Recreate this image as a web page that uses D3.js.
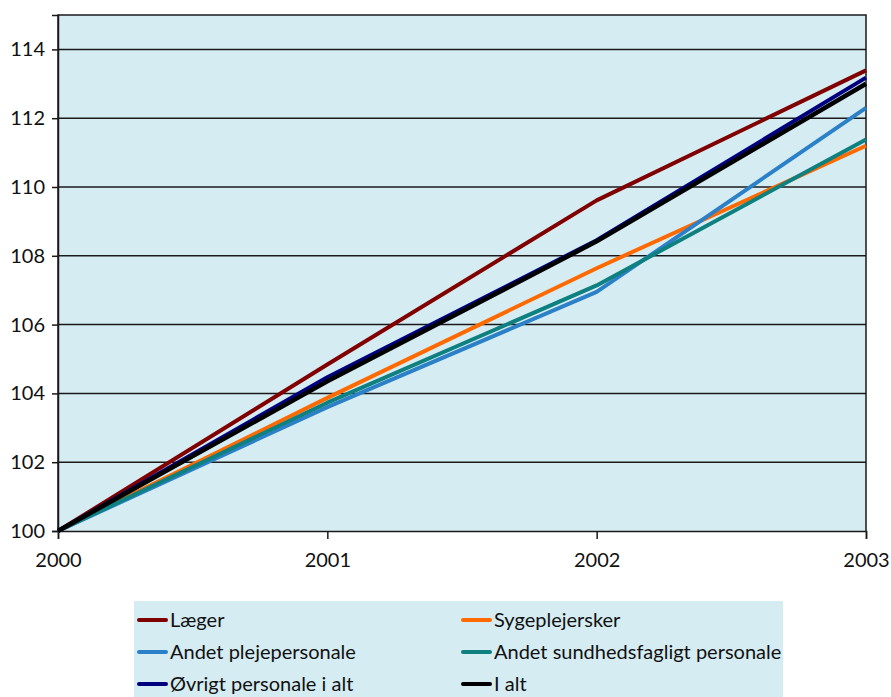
<!DOCTYPE html>
<html>
<head>
<meta charset="utf-8">
<script src="https://cdn.jsdelivr.net/npm/d3@7"></script>
<style>
  html, body { margin: 0; padding: 0; background: #fff; }
  svg { display: block; }
  text { font-family: Lato, "Open Sans", sans-serif; fill: #111; }
</style>
</head>
<body>
<svg id="chart" width="891" height="697"></svg>
<script>
const years = [2000, 2001, 2002, 2003];
const seriesNames = ["Læger", "Sygeplejersker", "Andet plejepersonale", "Andet sundhedsfagligt personale", "Øvrigt personale i alt", "I alt"];
const laeger = [100, 104.84, 109.61, 113.39];
const sygeplejersker = [100, 103.87, 107.64, 111.2];
const andetPleje = [100, 103.6, 106.95, 112.3];
const andetSundhed = [100, 103.73, 107.14, 111.38];
const oevrigt = [100, 104.47, 108.45, 113.18];
const iAlt = [100, 104.35, 108.42, 113.0];
const seriesColors = ["#800000", "#FF6A00", "#2B80C8", "#0E8080", "#00007F", "#000000"];
const yTicks = [100, 102, 104, 106, 108, 110, 112, 114];

const seriesValues = [laeger, sygeplejersker, andetPleje, andetSundhed, oevrigt, iAlt];

const svg = d3.select("#chart");
const mLeft = 58, mRight = 866, mTop = 15, mBottom = 531;

const x = d3.scaleLinear().domain([2000, 2003]).range([mLeft, mRight]);
const y = d3.scaleLinear().domain([100, 115]).range([mBottom, mTop]);

// plot background
svg.append("rect")
  .attr("x", mLeft).attr("y", mTop)
  .attr("width", mRight - mLeft).attr("height", mBottom - mTop)
  .attr("fill", "#D5ECF2");

// gridlines
svg.append("g")
  .selectAll("line")
  .data(yTicks.filter(d => d > 100))
  .join("line")
  .attr("x1", mLeft).attr("x2", mRight)
  .attr("y1", d => y(d)).attr("y2", d => y(d))
  .attr("stroke", "#1a1a1a").attr("stroke-width", 1.5);

// border (top/right)
svg.append("path")
  .attr("d", `M${mLeft},${mBottom}V${mTop}H${mRight}V${mBottom}`)
  .attr("fill", "none").attr("stroke", "#1a1a1a").attr("stroke-width", 1.5);

// y axis
const yAxis = svg.append("g")
  .attr("transform", `translate(${mLeft},0)`)
  .call(d3.axisLeft(y).tickValues(yTicks).tickSize(6).tickPadding(7).tickFormat(d3.format("d")));
yAxis.select(".domain").attr("stroke", "#1a1a1a").attr("stroke-width", 1.5);
yAxis.selectAll(".tick line").attr("stroke", "#1a1a1a").attr("stroke-width", 1.5);
yAxis.selectAll("text").attr("font-size", 20).attr("fill", "#111")
  .style("font-family", "Lato, sans-serif");

// x axis
const xAxis = svg.append("g")
  .attr("transform", `translate(0,${mBottom})`)
  .call(d3.axisBottom(x).tickValues(years).tickSize(8).tickPadding(14).tickFormat(d3.format("d")));
xAxis.select(".domain").attr("stroke", "#1a1a1a").attr("stroke-width", 1.5);
xAxis.selectAll(".tick line").attr("stroke", "#1a1a1a").attr("stroke-width", 1.5);
xAxis.selectAll("text").attr("font-size", 20).attr("fill", "#111")
  .style("font-family", "Lato, sans-serif");

// lines
const line = d3.line().x((d, i) => x(years[i])).y(d => y(d));
svg.append("g")
  .selectAll("path")
  .data(seriesValues)
  .join("path")
  .attr("d", d => line(d))
  .attr("fill", "none")
  .attr("stroke", (d, i) => seriesColors[i])
  .attr("stroke-width", (d, i) => i === 5 ? 4.5 : 4)
  .attr("stroke-linejoin", "round");

// legend
const lg = svg.append("g");
lg.append("rect")
  .attr("x", 134).attr("y", 601)
  .attr("width", 649).attr("height", 100)
  .attr("fill", "#D5ECF2");

const colX = [139, 463];
const rowY = [620, 652, 684];
seriesNames.forEach((name, i) => {
  const cx = colX[i % 2], cy = rowY[Math.floor(i / 2)];
  lg.append("line")
    .attr("x1", cx).attr("x2", cx + 27)
    .attr("y1", cy).attr("y2", cy)
    .attr("stroke", seriesColors[i]).attr("stroke-width", 4)
    .attr("stroke-linecap", "round");
  lg.append("text")
    .attr("x", cx + 31).attr("y", cy)
    .attr("dy", "0.35em")
    .attr("font-size", 20)
    .text(name);
});
</script>
</body>
</html>
